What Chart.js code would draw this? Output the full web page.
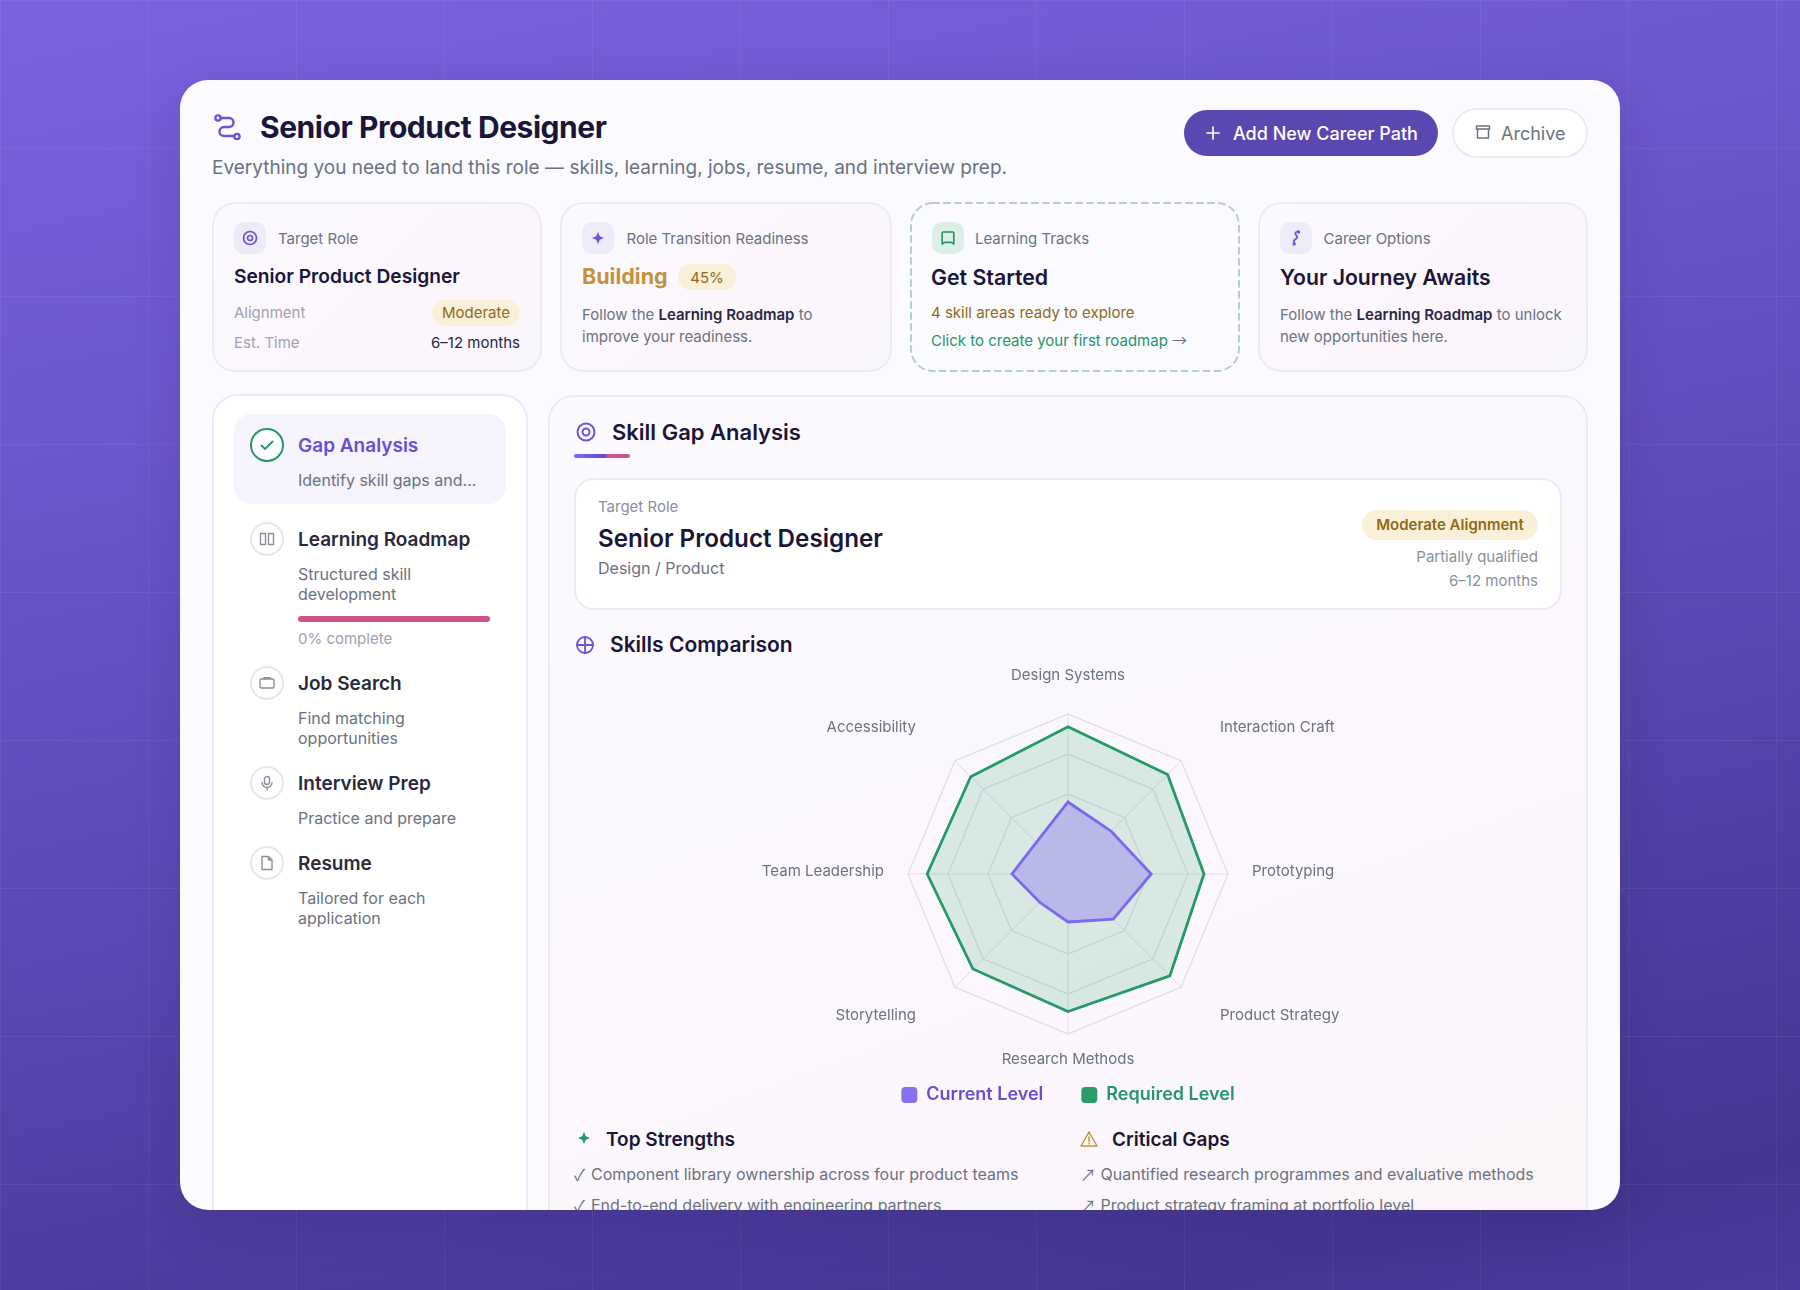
<!DOCTYPE html>
<html><head><meta charset="utf-8">
<script src="https://cdn.jsdelivr.net/npm/chart.js@4"></script>
<style>
*{box-sizing:border-box}
html,body{margin:0;width:1800px;height:1290px;overflow:hidden;font-family:Inter,sans-serif;color:#1a1638}
#bg{position:absolute;inset:0;background:
 linear-gradient(rgba(255,255,255,.06) 1px,transparent 1px) 0 0/148px 148px,
 linear-gradient(90deg,rgba(255,255,255,.06) 1px,transparent 1px) 0 0/148px 148px,
 linear-gradient(168deg,#7a61de 0%,#6c57cc 28%,#5a47b2 58%,#443690 92%,#4a3b9c 100%)}
#shadow{position:absolute;left:180px;top:80px;width:1440px;height:1130px;border-radius:28px;box-shadow:0 16px 50px rgba(30,20,80,.14)}
#card{position:absolute;inset:0;background:#fbfaff;clip-path:inset(80px 180px 80px 180px round 28px)}
.b{position:absolute;border-radius:23px;border:2px solid #ece9f8}
.sum{top:202px;height:170px;width:330px;background:linear-gradient(135deg,#fbfaff,#fcf6fb 60%,#f9f6fc)}
.ib{position:absolute;top:222px;width:32px;height:32px;border-radius:10px;background:#eeebf9;display:flex;align-items:center;justify-content:center}
.t{position:absolute;white-space:nowrap;transform:translateY(-50%);line-height:1.2}
.r{text-align:right}
.lab{font-size:15px;color:#6b7280}
.h{font-weight:600;color:#1a1638}
.body{font-size:15px;color:#6b7280}
.body b{font-weight:600;color:#2a2745}
.pill{position:absolute;border-radius:14px;background:#faf0d8;color:#8f6a18;display:flex;align-items:center;justify-content:center;white-space:nowrap}
.circ{position:absolute;left:250px;width:34px;height:34px;border-radius:50%;border:2px solid #e7e6ee;display:flex;align-items:center;justify-content:center;background:#fff}
.nt{font-size:19px;font-weight:600;color:#2a2a3c;left:298px}
.ns{font-size:16px;color:#6b7280;left:298px}
.li{font-size:16px;color:#6b7280}
.g{font-family:"Noto Sans CJK SC",Inter,sans-serif}
svg{display:block;fill:none;stroke-linecap:round;stroke-linejoin:round}
canvas{position:absolute;left:574px;top:650px}
</style></head><body>
<div id="bg"></div><div id="shadow"></div>
<div id="card">
 <svg style="position:absolute;left:212px;top:112px" width="30" height="30" viewBox="0 0 30 30" stroke="#6a55d6" stroke-width="2.4"><circle cx="6" cy="6" r="2.6"/><path d="M8.800 6H17a4.500 4.500 0 0 1 0 9H12a4.500 4.500 0 0 0 0 9H22"/><circle cx="25" cy="24.500" r="2.600"/></svg>
 <div class="t" style="left:260px;top:127px;font-size:30px;font-weight:700;letter-spacing:-.45px">Senior Product Designer</div>
 <div class="t" style="left:212px;top:168px;font-size:19px;color:#6b7280">Everything you need to land this role — skills, learning, jobs, resume, and interview prep.</div>

 <div style="position:absolute;left:1184px;top:110px;width:254px;height:46px;border-radius:23px;background:#5a48b0"></div>
 <svg style="position:absolute;left:1204px;top:124px" width="18" height="18" viewBox="0 0 18 18" stroke="#fff" stroke-width="1.7"><path d="M9 3v12M3 9h12"/></svg>
 <div class="t" style="left:1233px;top:134px;font-size:18px;font-weight:500;color:#fff">Add New Career Path</div>
 <div style="position:absolute;left:1452px;top:108px;width:136px;height:50px;border-radius:25px;background:#fff;border:2px solid #ecebf3"></div>
 <svg style="position:absolute;left:1474px;top:123px" width="18" height="18" viewBox="0 0 18 18" stroke="#6b7280" stroke-width="1.5"><path d="M2.500 3h13v3h-13zM3.500 6v9h11V6"/></svg>
 <div class="t" style="left:1501px;top:134px;font-size:18px;font-weight:400;color:#6b7280">Archive</div>

 <div class="b sum" style="left:212px"></div>
 <div class="ib" style="left:234px"><svg width="18" height="18" viewBox="0 0 18 18" stroke="#6a55d6" stroke-width="1.7"><circle cx="9" cy="9" r="6.500"/><circle cx="9" cy="9" r="2.500"/></svg></div>
 <div class="t lab" style="left:278px;top:239px">Target Role</div>
 <div class="t h" style="left:234px;top:277px;font-size:19.200px">Senior Product Designer</div>
 <div class="t" style="left:234px;top:313px;font-size:15px;color:#9ca3af">Alignment</div>
 <div class="pill" style="left:432px;top:300px;width:88px;height:26px;font-size:15px;padding-bottom:1px">Moderate</div>
 <div class="t" style="left:234px;top:343px;font-size:15px;color:#9ca3af">Est. Time</div>
 <div class="t r" style="right:1280px;top:343px;font-size:15px;color:#2a2745">6–12 months</div>

 <div class="b sum" style="left:560px;width:332px"></div>
 <div class="ib" style="left:582px"><svg width="18" height="18" viewBox="0 0 18 18" style="fill:#6a55d6"><path d="M9 3L10.800 7.200 15 9 10.800 10.800 9 15 7.200 10.800 3 9 7.200 7.200Z"/></svg></div>
 <div class="t lab" style="left:626.500px;top:239px">Role Transition Readiness</div>
 <div class="t" style="left:582px;top:277px;font-size:21.500px;font-weight:700;color:#c4923e">Building</div>
 <div class="pill" style="left:678px;top:264px;width:58px;height:26px;font-size:15px">45%</div>
 <div class="t body" style="left:582px;top:315px">Follow the <b>Learning Roadmap</b> to</div>
 <div class="t body" style="left:582px;top:337px">improve your readiness.</div>

 <div class="sum" style="position:absolute;left:910px;width:330px;border-radius:23px;background:#fbfafe"></div>
 <svg style="position:absolute;left:910px;top:202px" width="330" height="170"><rect x="1" y="1" width="328" height="168" rx="22" stroke="#b7cfc9" stroke-width="2" stroke-dasharray="6 5"/></svg>
 <div class="ib" style="left:932px;background:#dcefe7"><svg width="18" height="18" viewBox="0 0 18 18" stroke="#24966a" stroke-width="1.7"><path d="M4 3h10a.8.8 0 0 1 .8.8V15l-2.600-1.600H5.800L3.200 15V3.800A.8.8 0 0 1 4 3z"/></svg></div>
 <div class="t lab" style="left:975px;top:239px">Learning Tracks</div>
 <div class="t h" style="left:931px;top:278px;font-size:21.300px">Get Started</div>
 <div class="t" style="left:931px;top:313px;font-size:15px;color:#8f6a18">4 skill areas ready to explore</div>
 <div class="t" style="left:931px;top:340px;font-size:15px;color:#24966a">Click to create your first roadmap <span class="g" style="color:#6b7280">→</span></div>

 <div class="b sum" style="left:1258px"></div>
 <div class="ib" style="left:1280px"><svg width="18" height="18" viewBox="0 0 24 24" stroke="#6a55d6" stroke-width="2.400"><path d="M15 3c-4 1-5 3-3 5 3 2.500 1 4 0 5-3 2-4 4-2 6"/><circle cx="15.500" cy="4" r="1"/><circle cx="9.500" cy="20" r="1"/></svg></div>
 <div class="t lab" style="left:1323.500px;top:239px">Career Options</div>
 <div class="t h" style="left:1280px;top:278px;font-size:21.200px">Your Journey Awaits</div>
 <div class="t body" style="left:1280px;top:315px">Follow the <b>Learning Roadmap</b> to unlock</div>
 <div class="t body" style="left:1280px;top:337px">new opportunities here.</div>

 <div class="b" style="left:212px;top:394px;width:316px;height:900px;background:#fff;border-radius:26px"></div>
 <div style="position:absolute;left:234px;top:414px;width:272px;height:90px;border-radius:18px;background:#f5f3fb"></div>
 <div class="circ" style="top:428px;border-color:#24966a"><svg width="18" height="18" viewBox="0 0 18 18" stroke="#24966a" stroke-width="1.800"><path d="M3.500 9.500l3.500 3.500 7.500-7.500"/></svg></div>
 <div class="t nt" style="top:446px;color:#6550d0">Gap Analysis</div>
 <div class="t ns" style="top:481px">Identify skill gaps and...</div>

 <div class="circ" style="top:522px"><svg width="16" height="16" viewBox="0 0 16 16" stroke="#8b8f9c" stroke-width="1.400"><rect x="1.500" y="2.500" width="5" height="11"/><rect x="9.500" y="2.500" width="5" height="11"/></svg></div>
 <div class="t nt" style="top:540px">Learning Roadmap</div>
 <div class="t ns" style="top:575px">Structured skill</div>
 <div class="t ns" style="top:595px">development</div>
 <div style="position:absolute;left:298px;top:616px;width:192px;height:6px;border-radius:3px;background:#d0528c"></div>
 <div class="t" style="left:298px;top:639px;font-size:15px;color:#9ca3af">0% complete</div>

 <div class="circ" style="top:666px"><svg width="16" height="16" viewBox="0 0 16 16" stroke="#8b8f9c" stroke-width="1.400"><rect x="1" y="4" width="14" height="9" rx="1.500"/><path d="M5 4V2.800h6V4"/></svg></div>
 <div class="t nt" style="top:684px">Job Search</div>
 <div class="t ns" style="top:719px">Find matching</div>
 <div class="t ns" style="top:739px">opportunities</div>

 <div class="circ" style="top:766px"><svg width="16" height="16" viewBox="0 0 16 16" stroke="#8b8f9c" stroke-width="1.400"><rect x="5.500" y="1.500" width="5" height="8" rx="2.500"/><path d="M3 7.500a5 5 0 0 0 10 0M8 12.500v2.500"/></svg></div>
 <div class="t nt" style="top:784px">Interview Prep</div>
 <div class="t ns" style="top:819px">Practice and prepare</div>

 <div class="circ" style="top:846px"><svg width="16" height="16" viewBox="0 0 16 16" stroke="#8b8f9c" stroke-width="1.400"><path d="M3 1.500h6.500L13 5v9.500H3zM9.500 1.500V5H13"/></svg></div>
 <div class="t nt" style="top:864px">Resume</div>
 <div class="t ns" style="top:899px">Tailored for each</div>
 <div class="t ns" style="top:919px">application</div>

 <div class="b" style="left:548px;top:395px;width:1040px;height:900px;border-radius:26px;background:linear-gradient(160deg,#fcfaff,#fbf8fd 40%,#fbf5fa)"></div>
 <svg style="position:absolute;left:575px;top:421px" width="22" height="22" viewBox="0 0 22 22" stroke="#6a55d6" stroke-width="2"><circle cx="11" cy="11" r="8.500"/><circle cx="11" cy="11" r="3.500"/></svg>
 <div class="t h" style="left:612px;top:432px;font-size:22px">Skill Gap Analysis</div>
 <div style="position:absolute;left:574px;top:454px;width:56px;height:4px;border-radius:2px;background:linear-gradient(90deg,#7c68f0,#5e4dc4 55%,#d0528c 60%)"></div>
 <div class="b" style="left:574px;top:478px;width:988px;height:132px;border-radius:20px;background:#fff"></div>
 <div class="t" style="left:598px;top:507px;font-size:15px;color:#8b8f9c">Target Role</div>
 <div class="t h" style="left:598px;top:538.500px;font-size:24.200px">Senior Product Designer</div>
 <div class="t" style="left:598px;top:569px;font-size:16px;color:#6b7280">Design / Product</div>
 <div class="pill" style="left:1362px;top:510px;width:176px;height:30px;font-size:15px;font-weight:600;border-radius:15px;padding-bottom:2px">Moderate Alignment</div>
 <div class="t r" style="right:262px;top:557px;font-size:15px;color:#8b8f9c">Partially qualified</div>
 <div class="t r" style="right:262px;top:581px;font-size:15px;color:#8b8f9c">6–12 months</div>

 <svg style="position:absolute;left:575px;top:635px" width="20" height="20" viewBox="0 0 20 20" stroke="#6a55d6" stroke-width="1.800"><circle cx="10" cy="10" r="8"/><path d="M10 2v16M2 10h16"/></svg>
 <div class="t h" style="left:610px;top:645px;font-size:21px">Skills Comparison</div>

 <canvas id="c" width="988" height="464"></canvas>

 <svg style="position:absolute;left:575px;top:1129px" width="18" height="18" viewBox="0 0 18 18"><path fill="#24966a" d="M9 3L10.800 7.200 15 9 10.800 10.800 9 15 7.200 10.800 3 9 7.200 7.200Z"/></svg>
 <div class="t h" style="left:606px;top:1140px;font-size:19px">Top Strengths</div>
 <svg style="position:absolute;left:1080px;top:1130px" width="18" height="18" viewBox="0 0 18 18" stroke="#c4923e" stroke-width="1.500"><path d="M9 2L17 16H1ZM9 7v4.500M9 13.500v.2"/></svg>
 <div class="t h" style="left:1112px;top:1140px;font-size:19px">Critical Gaps</div>
 <div class="t li g" style="left:574px;top:1175px">✓</div>
 <div class="t li" style="left:591px;top:1175px">Component library ownership across four product teams</div>
 <div class="t li g" style="left:574px;top:1206px">✓</div>
 <div class="t li" style="left:591px;top:1206px">End-to-end delivery with engineering partners</div>
 <div class="t li g" style="left:1080px;top:1175px">↗</div>
 <div class="t li" style="left:1100.500px;top:1175px">Quantified research programmes and evaluative methods</div>
 <div class="t li g" style="left:1080px;top:1206px">↗</div>
 <div class="t li" style="left:1100.500px;top:1206px">Product strategy framing at portfolio level</div>
</div>
<script>
const skills = ["Design Systems","Interaction Craft","Prototyping","Product Strategy","Research Methods","Storytelling","Team Leadership","Accessibility"];
const currentLevel = [45,38,52,40,30,25,35,28];
const requiredLevel = [92,88,85,90,86,84,88,86];
const seriesNames = ["Current Level","Required Level"];
const tickSteps = [0,25,50,75,100];

// Radar geometry and label placement (layout settings, not data)
const radarCenterY = 224, radarRadius = 160;
const labelReach = [199,215,184,215,185,215,184,215];
const labelDrop  = [0,6,-3,-11,0,-11,-3,6];
const labelPlugin = {id:'labelPlace',afterLayout(chart){
  const s = chart.scales.r;
  (s._pointLabelItems||[]).forEach((it,i)=>{
    const p = s.getPointPosition(i,labelReach[i]);
    it.x = p.x; it.y = p.y + labelDrop[i] - 9;
  });
}};
const textColors = ['#6450cf','#24966a'], boxColors=['#8570ee','#2a9d6a'];
new Chart(document.getElementById('c'),{
  type:'radar',
  plugins:[labelPlugin],
  data:{labels:skills,datasets:[
    {label:seriesNames[0],data:currentLevel,borderColor:'#7c68f0',backgroundColor:'#b8b9e9',borderWidth:2.8,pointRadius:0,fill:true},
    {label:seriesNames[1],data:requiredLevel,borderColor:'#26996a',backgroundColor:'rgba(42,157,106,.165)',borderWidth:2.8,pointRadius:0,fill:true}
  ]},
  options:{responsive:false,animation:false,
    scales:{r:{min:tickSteps[0],max:tickSteps[4],ticks:{display:false,stepSize:tickSteps[1]},
      afterFit(s){s.yCenter=radarCenterY;s.drawingArea=radarRadius;},
      grid:{color:'#e0deee',lineWidth:1.4},angleLines:{color:'#e0deee',lineWidth:1},
      pointLabels:{color:'#6b7280',font:{family:'Inter',size:15},padding:23}}},
    plugins:{tooltip:{enabled:false},legend:{position:'bottom',labels:{
      padding:38,boxWidth:16,boxHeight:16,useBorderRadius:true,borderRadius:4,font:{family:'Inter',size:18,weight:'600'},
      generateLabels(){return seriesNames.map((n,i)=>({text:n,fillStyle:boxColors[i],strokeStyle:boxColors[i],lineWidth:0,fontColor:textColors[i],datasetIndex:i,borderRadius:4}));}
    }}}
  }
});
</script>
</body></html>
